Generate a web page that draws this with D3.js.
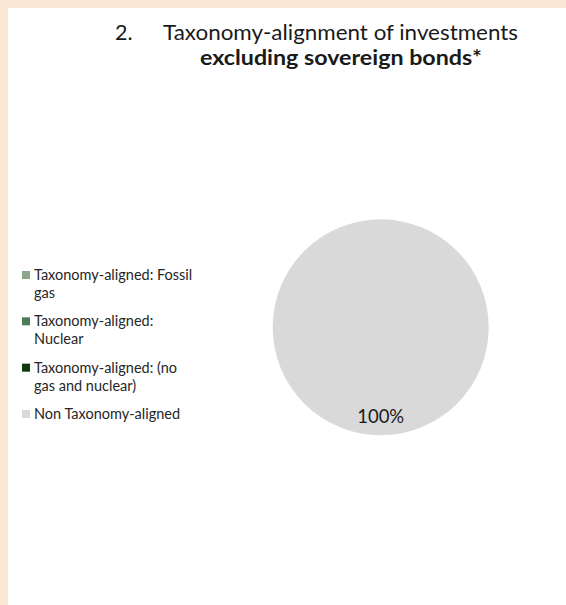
<!DOCTYPE html>
<html>
<head>
<meta charset="utf-8">
<script src="https://cdn.jsdelivr.net/npm/d3@7"></script>
<style>
html,body{margin:0;padding:0;background:#fff;}
svg{display:block;}
</style>
</head>
<body>
<svg id="chart" width="566" height="605"></svg>
<script>
const categories = [
  "Taxonomy-aligned: Fossil gas",
  "Taxonomy-aligned: Nuclear",
  "Taxonomy-aligned: (no gas and nuclear)",
  "Non Taxonomy-aligned"
];
const legendLines = [
  ["Taxonomy-aligned: Fossil", "gas"],
  ["Taxonomy-aligned:", "Nuclear"],
  ["Taxonomy-aligned: (no", "gas and nuclear)"],
  ["Non Taxonomy-aligned"]
];
const values = [0, 0, 0, 100];
const colors = ["#8aa98a", "#4f7b56", "#0b3b0b", "#d9d9d9"];
const titleLine1Num = "2.";
const titleLine1 = "Taxonomy-alignment of investments";
const titleLine2 = "excluding sovereign bonds*";

const svg = d3.select("#chart");
const W = 566, H = 605;
const font = "Lato, 'Carlito', 'Liberation Sans', sans-serif";

// frame
svg.append("rect").attr("x",0).attr("y",0).attr("width",W).attr("height",H).attr("fill","#fbe9d6");
svg.append("rect").attr("x",8).attr("y",8).attr("width",W-8).attr("height",H-8).attr("fill","#ffffff");

// title
svg.append("text").attr("x",115).attr("y",40)
  .attr("font-family",font).attr("font-size",21.5).attr("fill","#1a1a1a")
  .text(titleLine1Num);
svg.append("text").attr("x",163).attr("y",40)
  .attr("font-family",font).attr("font-size",21.5).attr("fill","#1a1a1a")
  .attr("textLength",355).attr("lengthAdjust","spacingAndGlyphs")
  .text(titleLine1);
svg.append("text").attr("x",200).attr("y",64.5)
  .attr("font-family",font).attr("font-size",21.5).attr("font-weight","bold").attr("fill","#1a1a1a")
  .attr("textLength",282).attr("lengthAdjust","spacingAndGlyphs")
  .text(titleLine2);

// pie
const cx = 380.7, cy = 327.3, r = 108;
const pie = d3.pie().sort(null).value(d => d);
const arcs = pie(values);
const arc = d3.arc().innerRadius(0).outerRadius(r);
const labelArc = d3.arc().innerRadius(89).outerRadius(89);
const g = svg.append("g").attr("transform",`translate(${cx},${cy})`);
g.selectAll("path").data(arcs).join("path")
  .attr("d", arc)
  .attr("fill", (d,i) => colors[i]);
const total = d3.sum(values);
g.selectAll("text.lbl").data(arcs.filter(d => d.data > 0)).join("text")
  .attr("class","lbl")
  .attr("transform", d => `translate(${labelArc.centroid(d)})`)
  .attr("text-anchor","middle").attr("dominant-baseline","central")
  .attr("font-family",font).attr("font-size",18.5).attr("fill","#1a1a1a")
  .text(d => d3.format(".0%")(d.data/total));

// legend
const legY = d3.scalePoint().domain(categories).range([275, 414]);
const leg = svg.append("g");
categories.forEach((c,i) => {
  const y = legY(c);
  leg.append("rect").attr("x",22).attr("y",y-4).attr("width",8).attr("height",8).attr("fill",colors[i]);
  const t = leg.append("text").attr("font-family",font).attr("font-size",14.5).attr("fill","#262626");
  legendLines[i].forEach((line,j) => {
    t.append("tspan").attr("x",34).attr("y", y + 5 + j*18).text(line);
  });
});
</script>
</body>
</html>
